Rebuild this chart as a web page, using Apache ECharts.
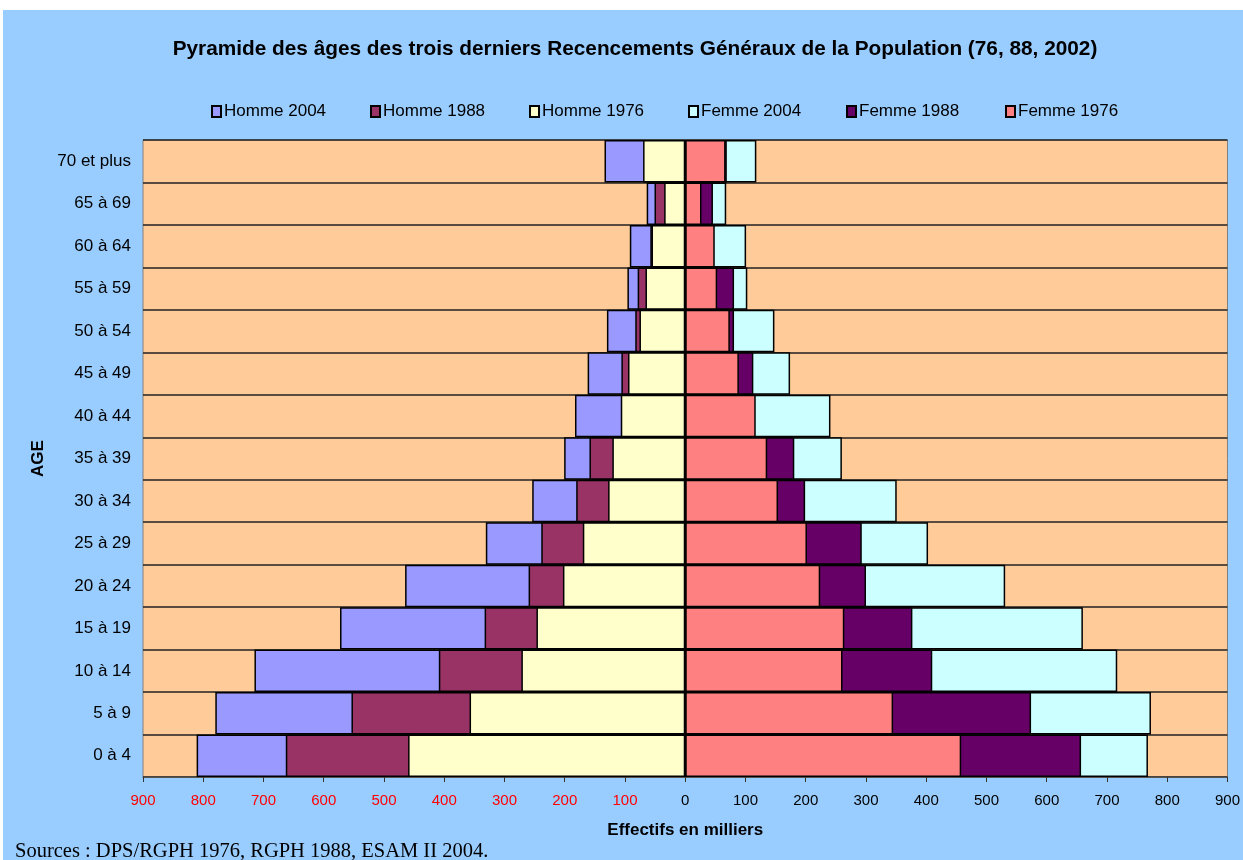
<!DOCTYPE html>
<html>
<head>
<meta charset="utf-8">
<script src="https://cdn.jsdelivr.net/npm/echarts@6/dist/echarts.min.js"></script>
<style>
  html, body { margin: 0; padding: 0; background: #ffffff; }
  #chart { position: absolute; left: 3px; top: 10px; width: 1240px; height: 850px; }
</style>
</head>
<body>
<div id="chart"></div>
<script>
// tranches d'age, du bas vers le haut
const ages = ['0 à 4', '5 à 9', '10 à 14', '15 à 19', '20 à 24', '25 à 29', '30 à 34',
  '35 à 39', '40 à 44', '45 à 49', '50 à 54', '55 à 59', '60 à 64', '65 à 69', '70 et plus'];

// effectifs en milliers
const homme2004 = [811, 780, 715, 573, 465, 331, 254, 201, 183, 162, 130, 96, 92, 64, 134];
const homme1988 = [663, 554, 409, 333, 260, 239, 181, 159, 100, 106, 83, 79, 58, 51, 68];
const homme1976 = [460, 358, 272, 247, 203, 170, 128, 121, 107, 95, 76, 66, 56, 35, 70];
const femme2004 = [768, 773, 717, 660, 531, 403, 351, 260, 241, 174, 148, 103, 101, 68, 118];
const femme1988 = [657, 574, 410, 377, 300, 293, 199, 181, 110, 113, 81, 81, 45, 46, 69];
const femme1976 = [458, 345, 261, 264, 224, 202, 154, 136, 117, 89, 74, 53, 49, 27, 67];

const legendNames = ['Homme 2004', 'Homme 1988', 'Homme 1976', 'Femme 2004', 'Femme 1988', 'Femme 1976'];

const font = '"Liberation Sans", Arial, sans-serif';

function barSerie(name, data, color, negate) {
  return {
    name: name,
    type: 'bar',
    data: negate ? data.map(v => -v) : data,
    barGap: '-100%',
    barCategoryGap: 0,
    itemStyle: { color: color, borderColor: '#000', borderWidth: 1.5 }
  };
}

// one legend per item so the spacing matches the original
const legendLeft = [208, 367, 526, 685, 843, 1002];
const legends = legendNames.map((n, i) => ({
  left: legendLeft[i],
  top: 93,
  padding: 0,
  itemWidth: 9,
  itemHeight: 11,
  icon: 'rect',
  textStyle: { fontFamily: font, fontSize: 17, color: '#000', padding: [0, 0, 0, -2] },
  data: [n]
}));

const chart = echarts.init(document.getElementById('chart'));

chart.setOption({
  animation: false,
  backgroundColor: '#99CCFF',
  title: {
    text: 'Pyramide des âges des trois derniers Recencements Généraux de la Population (76, 88, 2002)',
    left: 627,
    textAlign: 'center',
    top: 24,
    textStyle: { fontFamily: font, fontSize: 20.8, fontWeight: 'bold', color: '#000' }
  },
  legend: legends,
  grid: {
    left: 140,
    top: 130,
    right: 15,
    bottom: 83,
    show: true,
    backgroundColor: '#FFCC99',
    borderColor: '#808080',
    borderWidth: 1
  },
  xAxis: {
    type: 'value',
    min: -900,
    max: 900,
    interval: 100,
    name: 'Effectifs en milliers',
    nameLocation: 'middle',
    nameGap: 45,
    nameTextStyle: { fontFamily: font, fontSize: 17, fontWeight: 'bold', color: '#000' },
    axisLine: { show: true, lineStyle: { color: '#555', width: 1 } },
    axisTick: { show: true, length: 5, lineStyle: { color: '#333' } },
    splitLine: { show: false },
    axisLabel: {
      margin: 16,
      fontFamily: font,
      fontSize: 15,
      formatter: v => Math.abs(v),
      color: v => (v < 0 ? '#FF0000' : '#000')
    }
  },
  yAxis: {
    type: 'category',
    data: ages,
    name: 'AGE',
    nameLocation: 'middle',
    nameRotate: 90,
    nameGap: 90,
    nameTextStyle: { fontFamily: font, fontSize: 17, fontWeight: 'bold', color: '#000' },
    axisLine: { show: false, onZero: false },
    axisTick: { show: false },
    splitLine: { show: true, lineStyle: { color: '#222', width: 1.5 } },
    axisLabel: { margin: 12, fontFamily: font, fontSize: 17, color: '#000' }
  },
  series: [
    barSerie('Homme 2004', homme2004, '#9999FF', true),
    barSerie('Homme 1988', homme1988, '#993366', true),
    barSerie('Homme 1976', homme1976, '#FFFFCC', true),
    barSerie('Femme 2004', femme2004, '#CCFFFF', false),
    barSerie('Femme 1988', femme1988, '#660066', false),
    barSerie('Femme 1976', femme1976, '#FF8080', false)
  ],
  graphic: [{
    type: 'text',
    left: 12,
    top: 831,
    style: {
      text: 'Sources : DPS/RGPH 1976, RGPH 1988, ESAM II 2004.',
      font: '20.5px "Liberation Serif", "Times New Roman", serif',
      fill: '#000'
    }
  }]
});
</script>
</body>
</html>
